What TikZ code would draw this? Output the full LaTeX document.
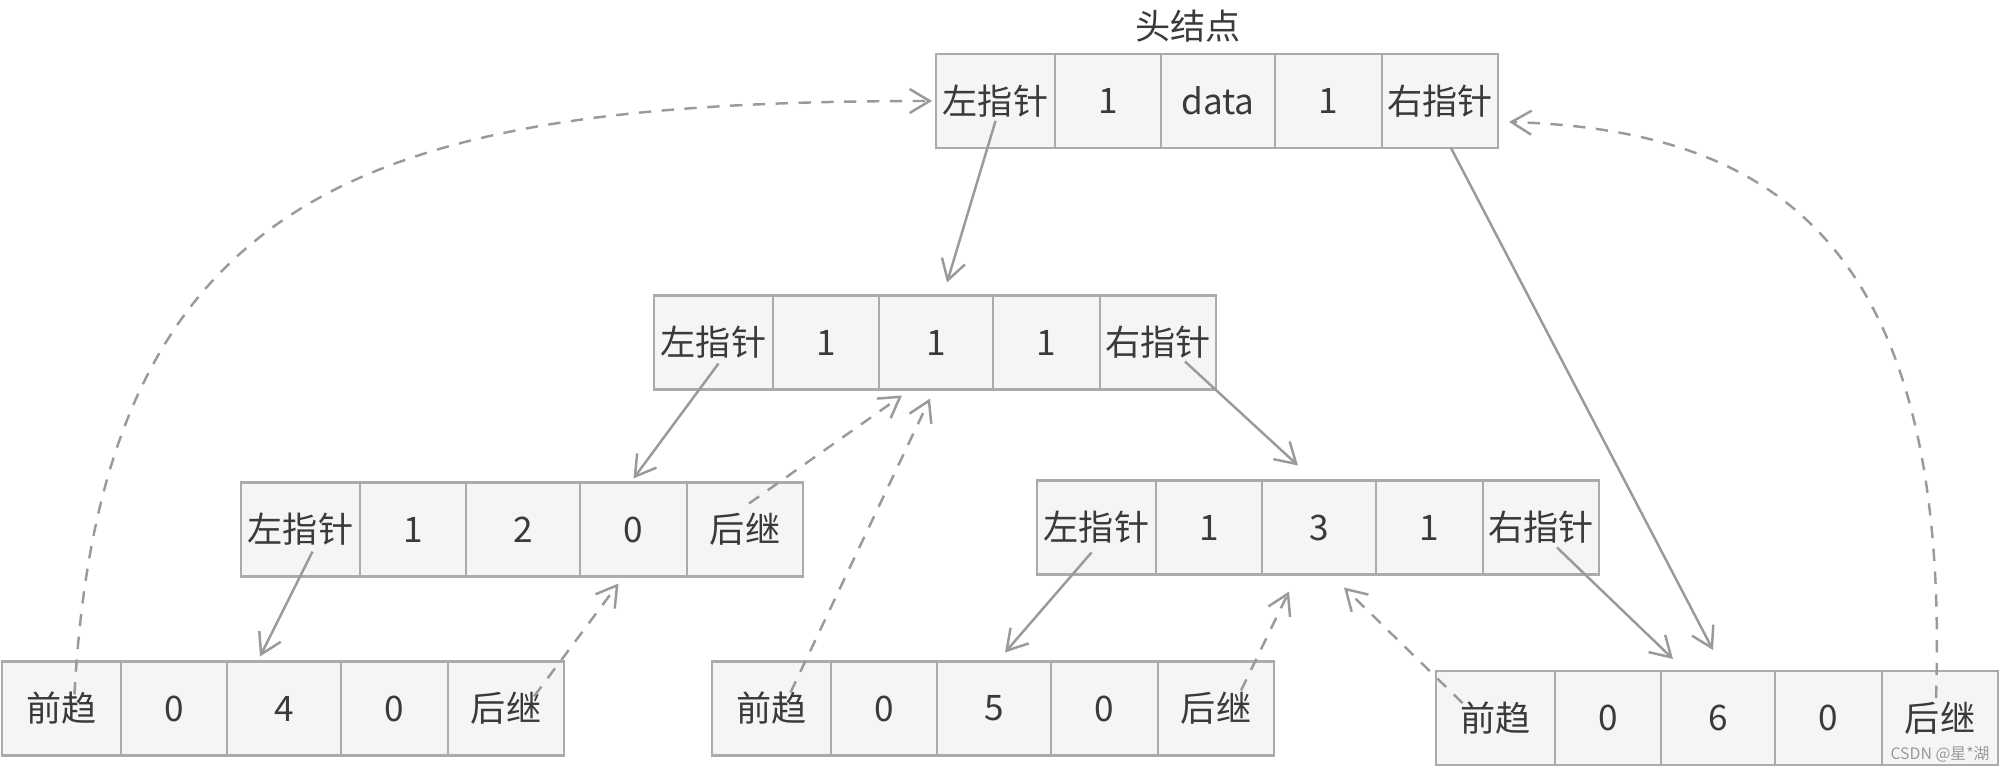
\documentclass[tikz,border=0pt]{standalone}
\usepackage{fontspec}
\setmainfont{Noto Sans CJK SC}
\usetikzlibrary{positioning,arrows.meta}
\definecolor{cellfill}{HTML}{F5F5F5}
\definecolor{cellline}{HTML}{ABABAB}
\definecolor{linkline}{HTML}{9A9A9A}
\definecolor{txt}{HTML}{3A3A3A}
\tikzset{
    cell/.style={draw=cellline, fill=cellfill, line width=0.75pt, minimum height=0.94cm,
        inner sep=0pt, outer sep=0pt, text=txt, font=\fontsize{10}{12}\selectfont},
    ptr/.style={draw=linkline, line width=0.7pt, -{Straight Barb[length=2mm,width=2.4mm]}},
    thread/.style={ptr, dash pattern=on 3.5pt off 3pt},
}
\newcommand{\recordrow}[7]{%
    \node[cell, minimum width=1.19cm, anchor=west] (#1-1) at (#2) {#3};
    \node[cell, minimum width=1.06cm, right=0pt of #1-1] (#1-2) {#4};
    \node[cell, minimum width=1.14cm, right=0pt of #1-2] (#1-3) {#5};
    \node[cell, minimum width=1.07cm, right=0pt of #1-3] (#1-4) {#6};
    \node[cell, minimum width=1.16cm, right=0pt of #1-4] (#1-5) {#7};
}
\begin{document}
\begin{tikzpicture}
    \useasboundingbox (0,0) rectangle (20,-7.71);
    \recordrow{h}{9.36,-1.01}{左指针}{1}{data}{1}{右指针}
    \recordrow{a}{6.54,-3.425}{左指针}{1}{1}{1}{右指针}
    \recordrow{b}{2.41,-5.295}{左指针}{1}{2}{0}{后继}
    \recordrow{c}{10.37,-5.275}{左指针}{1}{3}{1}{右指针}
    \recordrow{d}{0.02,-7.085}{前趋}{0}{4}{0}{后继}
    \recordrow{e}{7.12,-7.085}{前趋}{0}{5}{0}{后继}
    \recordrow{f}{14.36,-7.18}{前趋}{0}{6}{0}{后继}
    \node[text=txt, font=\fontsize{10}{12}\selectfont] (title) at ([xshift=-3mm,yshift=2.8mm]h-3.north) {头结点};
    \node[text=gray!80, font=\fontsize{4.5}{5}\selectfont] (mark) at ([yshift=1.1mm]f-5.south) {CSDN @星*湖};

    \draw[ptr] ([yshift=-2mm]h-1.center) -- ([xshift=1.1mm,yshift=1.3mm]a-3.north);
    \draw[ptr] ([xshift=1.1mm]h-5.south) -- ([xshift=-0.5mm,yshift=2.1mm]f-3.north);
    \draw[ptr] ([xshift=0.5mm,yshift=-2.1mm]a-1.center) -- ([yshift=0.4mm]b-4.north);
    \draw[ptr] ([xshift=2.7mm,yshift=-1.9mm]a-5.center) -- ([xshift=-2.1mm,yshift=1.5mm]c-3.north);
    \draw[ptr] ([xshift=1.2mm,yshift=-2.2mm]b-1.center) -- ([xshift=-2.4mm,yshift=0.5mm]d-3.north);
    \draw[ptr] ([xshift=-0.5mm,yshift=-2.5mm]c-1.center) -- ([xshift=1.1mm,yshift=0.9mm]e-3.north);
    \draw[ptr] ([xshift=1.6mm,yshift=-2mm]c-5.center) -- ([xshift=-4.5mm,yshift=1.2mm]f-3.north);

    \draw[thread] ([xshift=1.3mm,yshift=1.4mm]d-1.center) .. controls +(0.27,5.14) and +(-5.5,0) .. ([xshift=-0.4mm]h-1.west);
    \draw[thread] ([xshift=-0.4mm,yshift=2mm]f-5.center) .. controls +(0.15,4.48) and +(2.72,-0.08) .. ([xshift=1.1mm,yshift=-2.1mm]h-5.east);
    \draw[thread] ([xshift=0.4mm,yshift=2.6mm]b-5.center) -- ([xshift=-3.4mm,yshift=-0.6mm]a-3.south);
    \draw[thread] ([xshift=2.8mm,yshift=1.2mm]d-5.center) -- ([xshift=-1.5mm,yshift=-0.7mm]b-4.south);
    \draw[thread] ([xshift=1.9mm,yshift=1.6mm]e-1.center) -- ([xshift=-0.6mm,yshift=-0.9mm]a-3.south);
    \draw[thread] ([xshift=2.5mm,yshift=1.8mm]e-5.center) -- ([xshift=-3mm,yshift=-1.7mm]c-3.south);
    \draw[thread] ([xshift=-3.3mm,yshift=1.5mm]f-1.center) -- ([xshift=2.5mm,yshift=-1.3mm]c-3.south);
\end{tikzpicture}
\end{document}
